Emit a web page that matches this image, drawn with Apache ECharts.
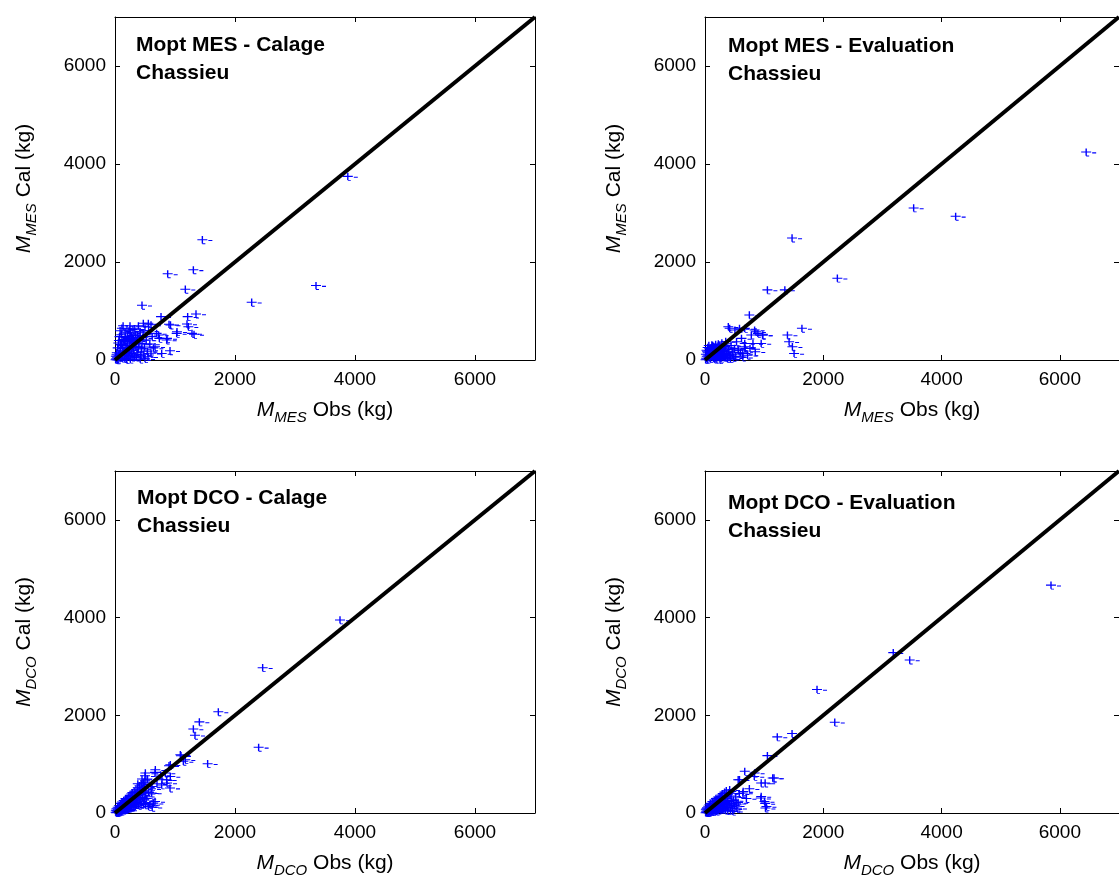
<!DOCTYPE html>
<html><head><meta charset="utf-8">
<script src="https://cdn.jsdelivr.net/npm/echarts@6/dist/echarts.min.js"></script>
<style>html,body{margin:0;padding:0;background:#fff}#c{width:1119px;height:882px}</style>
</head><body><div id="c"></div>
<script>
// ---- Data ----
const tickValues = [0, 2000, 4000, 6000];
const panelTitles = ['Mopt MES - Calage\nChassieu', 'Mopt MES - Evaluation\nChassieu', 'Mopt DCO - Calage\nChassieu', 'Mopt DCO - Evaluation\nChassieu'];
const panelSubs = ['MES', 'MES', 'DCO', 'DCO'];
const diagonal = [[0, 0], [7000, 7000]];

const mesCalage = [
 [20,30],[35,60],[50,20],[60,90],[70,140],[80,50],[90,200],[100,110],[110,300],[120,40],[130,180],[140,420],[150,260],[160,90],[170,550],[180,350],[190,150],[200,640],[210,480],[220,230],[230,70],[240,380],[250,700],[260,560],[270,300],[280,130],[290,450],[300,620],[310,200],[320,350],[330,80],[340,520],[350,260],[360,410],[380,150],[390,700],[400,330],[420,580],[440,230],[460,460],[480,120],[500,680],[30,150],[45,250],[55,350],[65,400],[75,480],[85,600],[95,320],[105,520],[115,650],[125,240],[135,700],[145,150],[155,380],[165,30],[175,460],[185,260],[195,10],[205,330],[215,120],[225,440],[235,600],[245,180],[255,20],[265,400],[275,500],[285,60],[295,280],[305,420],[315,100],[330,640],[345,360],[360,60],[375,500],[390,250],[410,420],[430,100],[450,340],[470,560],[490,270],[520,410],[540,180],[560,600],[580,330],[600,720],[620,480],[640,250],[10,10],[15,80],[25,110],[40,5],[500,30],[550,70],[420,20],[600,140],
 [767,888],[1211,888],[1350,942],[1222,683],[900,731],[1028,546],[1317,526],[694,546],[739,444],[861,410],[667,273],[778,137],[917,191],[472,751],[556,751],[450,1120],[1172,1447],[1306,1843],[878,1761],[1456,2457],[2278,1181],[3350,1522],[3880,3750],[1200,737],[1283,546],[925,717],[1033,580],[728,512],[867,444]
];
const mesEvaluation = [
 [10,10],[20,40],[30,80],[40,20],[50,150],[60,60],[70,200],[80,110],[90,30],[100,250],[110,170],[120,70],[130,300],[140,130],[150,40],[160,220],[170,90],[180,320],[190,160],[200,20],[210,260],[220,120],[230,60],[240,200],[250,310],[260,150],[270,40],[280,240],[290,100],[300,180],[320,60],[340,280],[360,140],[380,30],[400,220],[420,90],[440,300],[460,160],[480,50],[500,240],[25,200],[45,260],[65,300],[85,180],[105,90],[125,220],[145,280],[165,20],[185,240],[205,140],[225,330],[245,80],[265,230],[285,350],[305,120],[330,200],[350,380],[370,90],[15,120],[35,170],[55,100],[75,240],[95,130],[115,310],[135,50],[155,190],[175,270],[195,70],[215,200],[235,150],[255,10],[275,130],[295,270],[315,250],[345,60],[390,170],[430,30],[470,120],[520,80],[560,200],[600,150],[640,60],[680,240],[720,100],
 [394,683],[506,614],[672,648],[839,614],[894,546],[978,512],[783,512],[617,444],[533,375],[672,341],[811,341],[950,341],[761,239],[567,205],[850,170],[750,922],[1394,512],[1422,375],[1478,273],[1506,137],[1639,649],[1055,1434],[1350,1434],[1472,2492],[2238,1673],[3528,3106],[4238,2935],[6445,4246],[417,649],[583,649],[861,580],[972,512],[639,137],[667,273]
];
const dcoCalage = [
 [10,20],[20,10],[30,50],[40,30],[50,80],[60,40],[70,110],[80,60],[90,130],[100,90],[110,160],[120,70],[130,190],[140,120],[150,220],[160,100],[170,250],[180,150],[190,280],[200,130],[210,300],[220,180],[230,330],[240,200],[250,360],[260,150],[270,390],[280,230],[290,420],[300,260],[310,180],[320,450],[330,300],[340,210],[350,480],[360,330],[370,250],[380,520],[390,360],[400,290],[410,560],[420,380],[430,230],[440,590],[450,410],[460,320],[470,620],[480,450],[490,270],[500,660],[15,60],[25,90],[35,15],[45,120],[55,20],[65,150],[75,30],[85,50],[95,200],[105,40],[115,230],[125,110],[135,60],[145,260],[155,170],[165,70],[175,300],[185,90],[195,210],[215,240],[235,110],[255,280],[275,120],[295,340],[315,130],[335,390],[355,200],[375,430],[395,160],[415,470],[435,180],[455,500],[475,200],[495,540],[520,300],[540,700],[560,420],[580,180],[600,500],[620,120],
 [1089,1197],[1172,1094],[922,992],[672,889],[506,821],[839,821],[922,752],[783,684],[867,616],[478,616],[617,547],[506,410],[639,205],[506,171],[667,834],[500,766],[861,684],[917,513],[778,578],[611,411],[667,239],[561,137],[1100,1176],[1139,1060],[900,971],[1544,1012],[2394,1347],[1333,1593],[1306,1724],[1406,1868],[1722,2073],[2461,2977],[3750,3955],[700,600],[760,780],[450,700],[380,600]
];
const dcoEvaluation = [
 [10,10],[20,30],[30,15],[40,50],[50,25],[60,80],[70,40],[80,100],[90,55],[100,130],[110,70],[120,150],[130,90],[140,180],[150,60],[160,200],[170,110],[180,230],[190,80],[200,260],[210,130],[220,290],[230,100],[240,320],[250,160],[260,340],[270,120],[280,370],[290,190],[300,400],[310,140],[320,220],[330,430],[340,170],[350,260],[360,460],[370,200],[380,300],[390,120],[400,410],[420,180],[440,350],[460,90],[480,260],[500,150],[15,70],[25,90],[35,110],[45,10],[55,140],[65,20],[75,170],[85,30],[95,200],[105,40],[115,60],[125,240],[135,30],[145,120],[155,270],[165,50],[175,160],[185,300],[195,40],[205,190],[225,60],[245,220],[265,70],[285,260],[305,80],[325,300],[345,60],[365,150],[385,50],[405,240],[430,60],[450,190],[470,40],[520,330],[540,100],[560,220],[580,400],
 [672,855],[839,821],[561,684],[950,616],[1145,719],[950,342],[1006,239],[1022,103],[645,444],[528,205],[400,410],[583,684],[833,752],[1017,616],[1167,719],[944,308],[1039,137],[1017,200],[639,411],[417,480],[1055,1177],[1222,1561],[1472,1629],[2194,1861],[1894,2532],[3183,3285],[3461,3134],[5850,4667],[750,500],[700,300]
];
const panelData = [mesCalage, mesEvaluation, dcoCalage, dcoEvaluation];

// ---- Layout ----
const FONT = '"Liberation Sans", Arial, sans-serif';
const grids = [
  {left: 115, top: 17, width: 420, height: 343},
  {left: 705, top: 17, width: 420, height: 343},
  {left: 115, top: 471, width: 420, height: 342},
  {left: 705, top: 471, width: 420, height: 342}
];
const titlePos = [{left: 136, top: 31}, {left: 728, top: 32}, {left: 137, top: 484}, {left: 728, top: 489}];
const plusPath = 'path://M0,4.3H10V5.7H0Z M4.3,0H5.7V10H4.3Z M11,5.4H15V6.8H11Z M5,9.8H8V11H5Z';

const rich = {
  m: {fontSize: 21, fontStyle: 'italic', fontFamily: FONT, color: '#000', lineHeight: 24},
  s: {fontSize: 15, fontStyle: 'italic', fontFamily: FONT, color: '#000', lineHeight: 16, padding: [16, 0, 0, 0]},
  n: {fontSize: 21, fontFamily: FONT, color: '#000', lineHeight: 24}
};
const tickFmt = v => (tickValues.indexOf(v) >= 0 ? String(v) : '');

const xAxes = [], yAxes = [], series = [], titles = [];
grids.forEach((g, i) => {
  const common = {gridIndex: i, type: 'value', min: 0, max: 7000, interval: 2000,
    splitLine: {show: false},
    axisLine: {show: true, onZero: false, lineStyle: {color: '#000', width: 1}},
    axisTick: {show: true, inside: true, length: 5, lineStyle: {color: '#000'}}};
  xAxes.push(Object.assign({}, common, {position: 'bottom',
    name: '{m|M}{s|' + panelSubs[i] + '}{n| Obs (kg)}', nameLocation: 'middle', nameGap: 38,
    nameTextStyle: {rich: rich},
    axisLabel: {show: true, showMaxLabel: false, formatter: tickFmt, fontSize: 19, color: '#000', fontFamily: FONT, margin: 10}}));
  xAxes.push(Object.assign({}, common, {position: 'top', axisLabel: {show: false}}));
  yAxes.push(Object.assign({}, common, {position: 'left',
    name: '{m|M}{s|' + panelSubs[i] + '}{n| Cal (kg)}', nameLocation: 'middle', nameGap: 79, nameRotate: 90,
    nameTextStyle: {rich: rich},
    axisLabel: {show: true, showMaxLabel: false, formatter: tickFmt, fontSize: 19, color: '#000', fontFamily: FONT, margin: 9}}));
  yAxes.push(Object.assign({}, common, {position: 'right', axisLabel: {show: false}}));
  series.push({type: 'scatter', xAxisIndex: 2 * i, yAxisIndex: 2 * i, data: panelData[i],
    symbol: plusPath, symbolSize: [15, 11], symbolOffset: [2.5, 0.5], symbolKeepAspect: true,
    itemStyle: {color: '#0000ff', opacity: 1}, silent: true, z: 2});
  series.push({type: 'line', xAxisIndex: 2 * i, yAxisIndex: 2 * i, data: diagonal,
    symbol: 'none', lineStyle: {color: '#000', width: 4}, silent: true, z: 3});
  titles.push({text: panelTitles[i], left: titlePos[i].left, top: titlePos[i].top, padding: 0,
    textStyle: {fontSize: 21, fontWeight: 'bold', fontFamily: FONT, color: '#000', lineHeight: 28}});
});

const chart = echarts.init(document.getElementById('c'), null, {renderer: 'canvas'});
chart.setOption({
  animation: false,
  backgroundColor: '#fff',
  title: titles,
  grid: grids,
  xAxis: xAxes,
  yAxis: yAxes,
  series: series
});
</script></body></html>
